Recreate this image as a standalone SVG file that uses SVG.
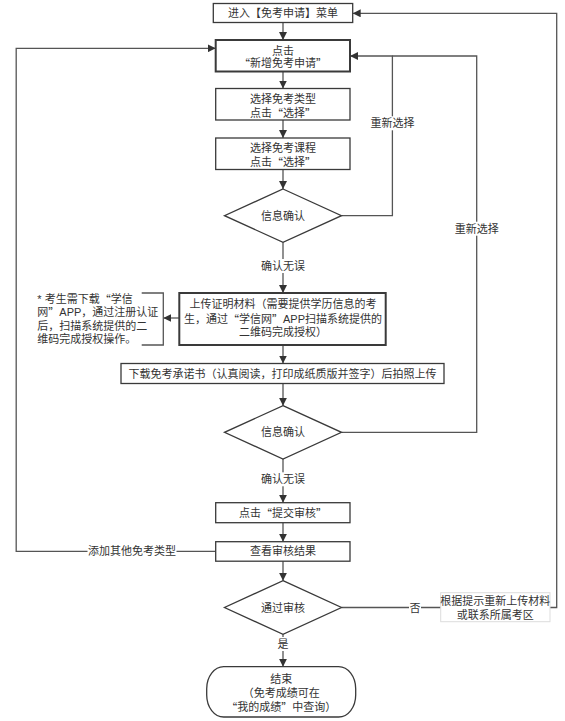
<svg xmlns="http://www.w3.org/2000/svg" width="565" height="721" viewBox="0 0 565 721">
<style>
text{font-family:"Liberation Sans","Noto Sans CJK SC",sans-serif;font-size:11px;fill:#333;text-anchor:middle;dominant-baseline:central}
.q{font-family:"Noto Sans CJK SC",sans-serif}
.box{fill:#fff;stroke:#3a3a3a;stroke-width:1.3}
.thick{stroke-width:2}
.ln{fill:none;stroke:#555;stroke-width:1.3}
.lbl{fill:#fff;stroke:none}
.note{text-anchor:start}
</style>
<defs>
<marker id="ah" viewBox="0 0 10 10" refX="10" refY="5" markerWidth="8" markerHeight="8" markerUnits="userSpaceOnUse" orient="auto">
<path d="M0,0 L10,5 L0,10 z" fill="#333"/>
</marker>
</defs>
<rect width="565" height="721" fill="#fff"/>
<g id="connectors">
<path class="ln" d="M283,22.5 V40" marker-end="url(#ah)"/>
<path class="ln" d="M283,71.5 V88.5" marker-end="url(#ah)"/>
<path class="ln" d="M283,120 V138" marker-end="url(#ah)"/>
<path class="ln" d="M283,169.5 V189" marker-end="url(#ah)"/>
<path class="ln" d="M283,242.3 V293" marker-end="url(#ah)"/>
<path class="ln" d="M179.3,318 H163.3" marker-end="url(#ah)"/>
<path class="ln" d="M283,345 V363.5" marker-end="url(#ah)"/>
<path class="ln" d="M283,383.5 V405.7" marker-end="url(#ah)"/>
<path class="ln" d="M283,459 V502.7" marker-end="url(#ah)"/>
<path class="ln" d="M283,522.7 V541.7" marker-end="url(#ah)"/>
<path class="ln" d="M283,561 V580.7" marker-end="url(#ah)"/>
<path class="ln" d="M283,634.3 V666.7" marker-end="url(#ah)"/>
<path class="ln" d="M341.5,215.7 H392.4 V56 H350" marker-end="url(#ah)"/>
<path class="ln" d="M341.5,432.3 H476.7 V56 H392.4"/>
<path class="ln" d="M215.7,551.3 H16.2 V48.3 H215.7" marker-end="url(#ah)"/>
<path class="ln" d="M341.5,607.5 H556.7 V13.3 H352.7" marker-end="url(#ah)"/>
<rect class="lbl" x="261" y="259" width="44" height="14"/>
<text x="283" y="266">确认无误</text>
<rect class="lbl" x="261" y="472.3" width="44" height="14"/>
<text x="283" y="479.3">确认无误</text>
<rect class="lbl" x="277" y="637" width="12" height="14"/>
<text x="283" y="644">是</text>
<rect class="lbl" x="370" y="116.3" width="45" height="14"/>
<text x="392.4" y="123.3">重新选择</text>
<rect class="lbl" x="454.5" y="221.7" width="45" height="14"/>
<text x="476.7" y="228.7">重新选择</text>
<rect class="lbl" x="87.5" y="544.3" width="89" height="14"/>
<text x="132" y="551.3">添加其他免考类型</text>
<rect class="lbl" x="409" y="600.5" width="12" height="14"/>
<text x="415" y="607.5">否</text>
<rect x="440.7" y="592.7" width="109.3" height="29" fill="#fff" stroke="#ddd" stroke-width="1"/>
<text x="495.3" y="601.2">根据提示重新上传材料</text>
<text x="495.3" y="614.5">或联系所属考区</text>
</g>
<g id="n1">
<rect class="box" x="213.3" y="3.5" width="139.4" height="19"/>
<text x="283" y="13.2">进入【免考申请】菜单</text>
</g>
<g id="n2">
<rect class="box thick" x="215.7" y="40" width="134.3" height="31.5"/>
<text x="283" y="50.7">点击</text>
<text x="283" y="63.3"><tspan class="q">“</tspan>新增免考申请<tspan class="q">”</tspan></text>
</g>
<g id="n3">
<rect class="box" x="215.7" y="88.5" width="134.3" height="31.5"/>
<text x="283" y="99.3">选择免考类型</text>
<text x="283" y="112.7">点击<tspan class="q">“</tspan>选择<tspan class="q">”</tspan></text>
</g>
<g id="n4">
<rect class="box" x="215.7" y="138" width="134.3" height="31.5"/>
<text x="283" y="148.3">选择免考课程</text>
<text x="283" y="161.7">点击<tspan class="q">“</tspan>选择<tspan class="q">”</tspan></text>
</g>
<g id="d1">
<polygon class="box" points="283,189 341.5,215.7 283,242.3 224.5,215.7"/>
<text x="283" y="215.7">信息确认</text>
</g>
<g id="note">
<path class="ln" d="M141.7,293 H163.3 V345 H141.7"/>
<text class="note" x="37.3" y="299">* 考生需下载<tspan class="q">“</tspan>学信</text>
<text class="note" x="37.3" y="312.3">网<tspan class="q">”</tspan>APP，通过注册认证</text>
<text class="note" x="37.3" y="325.6">后，扫描系统提供的二</text>
<text class="note" x="37.3" y="338.9">维码完成授权操作。</text>
</g>
<g id="n5">
<rect class="box thick" x="179.3" y="293" width="206.4" height="52"/>
<text x="283" y="303.8">上传证明材料（需要提供学历信息的考</text>
<text x="283" y="318.5">生，通过<tspan class="q">“</tspan>学信网<tspan class="q">”</tspan>APP扫描系统提供的</text>
<text x="283" y="332.2">二维码完成授权）</text>
</g>
<g id="n6">
<rect class="box" x="121" y="363.5" width="323" height="20"/>
<text x="282.5" y="373.5">下载免考承诺书（认真阅读，打印成纸质版并签字）后拍照上传</text>
</g>
<g id="d2">
<polygon class="box" points="283,405.7 341.5,432.3 283,459 224.5,432.3"/>
<text x="283" y="432.3">信息确认</text>
</g>
<g id="n7">
<rect class="box" x="215.7" y="502.7" width="134.3" height="20"/>
<text x="283" y="512.7">点击<tspan class="q">“</tspan>提交审核<tspan class="q">”</tspan></text>
</g>
<g id="n8">
<rect class="box" x="215.7" y="541.7" width="134.3" height="19.5"/>
<text x="283" y="551.3">查看审核结果</text>
</g>
<g id="d3">
<polygon class="box" points="283,580.7 341.5,607.5 283,634.3 224.5,607.5"/>
<text x="283" y="607.5">通过审核</text>
</g>
<g id="end">
<rect class="box" x="206.7" y="666.7" width="149" height="50.3" rx="17" ry="22"/>
<text x="281.2" y="679.3">结束</text>
<text x="281.2" y="693.3">（免考成绩可在</text>
<text x="281.2" y="706.7"><tspan class="q">“</tspan>我的成绩<tspan class="q">”</tspan>中查询）</text>
</g>
</svg>
